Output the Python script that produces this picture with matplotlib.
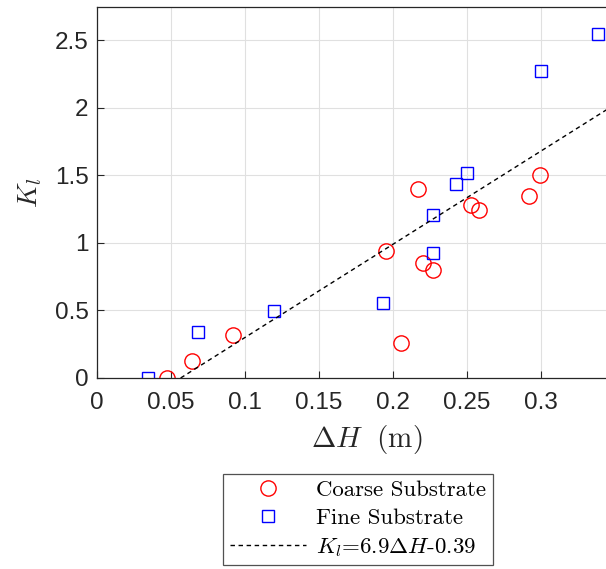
import numpy as np
import matplotlib
matplotlib.use("Agg")
import matplotlib.pyplot as plt

# Data
coarse_dH = [0.0473, 0.0642, 0.0919, 0.1950, 0.2054, 0.2171, 0.2205, 0.2273, 0.2525, 0.2585, 0.2921, 0.2993]
coarse_K = [0.0, 0.123, 0.319, 0.937, 0.262, 1.40, 0.850, 0.798, 1.283, 1.241, 1.35, 1.50]
fine_dH = [0.0347, 0.0685, 0.1194, 0.1935, 0.2268, 0.2273, 0.2424, 0.2503, 0.2998, 0.3383]
fine_K = [0.0, 0.338, 0.494, 0.556, 0.922, 1.204, 1.434, 1.518, 2.27, 2.549]
fit_slope = 6.9
fit_intercept = -0.39
xticks = [0, 0.05, 0.1, 0.15, 0.2, 0.25, 0.3]
xticklabels = ["0", "0.05", "0.1", "0.15", "0.2", "0.25", "0.3"]
yticks = [0, 0.5, 1, 1.5, 2, 2.5]
yticklabels = ["0", "0.5", "1", "1.5", "2", "2.5"]

plt.rcParams["mathtext.fontset"] = "cm"
plt.rcParams["font.family"] = ["Liberation Sans", "DejaVu Sans"]

fig = plt.figure(figsize=(6.06, 5.69), dpi=100)
ax_w = 1.0 - 97/606 + 0.01
ax = fig.add_axes([97/606, 1-378/569, ax_w, (378-7)/569])

axc = "#262626"
ax.grid(True, color="#e0e0e0", linewidth=0.8)
ax.set_axisbelow(True)

ax.plot(coarse_dH, coarse_K, linestyle="none", marker="o", markersize=11,
        markerfacecolor="none", markeredgecolor="#ff0000", markeredgewidth=1.0,
        label="Coarse Substrate")
ax.plot(fine_dH, fine_K, linestyle="none", marker="s", markersize=9,
        markerfacecolor="none", markeredgecolor="#0000ff", markeredgewidth=1.0,
        label="Fine Substrate")
x0 = -fit_intercept / fit_slope
xf = np.array([x0, 0.36])
ax.plot(xf, fit_slope * xf + fit_intercept, color="black", linewidth=1.0,
        linestyle=(0, (3.2, 2.6)), label=r"$K_l$=6.9$\Delta H$-0.39")

ax.set_xlim(0, 0.344 + 0.01 * 606 / 1480)
ax.set_ylim(0, 2.747)
ax.set_xticks(xticks)
ax.set_xticklabels(xticklabels)
ax.set_yticks(yticks)
ax.set_yticklabels(yticklabels)
ax.tick_params(direction="in", length=5, width=0.8, colors=axc, labelsize=17.5)
ax.tick_params(axis="x", pad=10)
ax.tick_params(axis="y", pad=6)
for s in ax.spines.values():
    s.set_color(axc)
    s.set_linewidth(0.9)

ax.set_xlabel(r"$\Delta H\ \ (\mathrm{m})$", fontsize=21, color=axc, labelpad=5)
ax.xaxis.set_label_coords((367 - 97) / (ax_w * 606), -0.12)
ax.set_ylabel(r"$K_l$", fontsize=20, color=axc, labelpad=8)

leg = fig.legend(loc="center", bbox_to_anchor=(0.591, 0.087),
                 prop={"family": "cmr10", "size": 16.5},
                 frameon=True, fancybox=False, edgecolor=axc,
                 handlelength=3.3, handletextpad=0.45, labelspacing=0.33,
                 borderpad=0.3, borderaxespad=0)
leg.get_frame().set_linewidth(0.9)

fig.savefig("out.png", dpi=100)
